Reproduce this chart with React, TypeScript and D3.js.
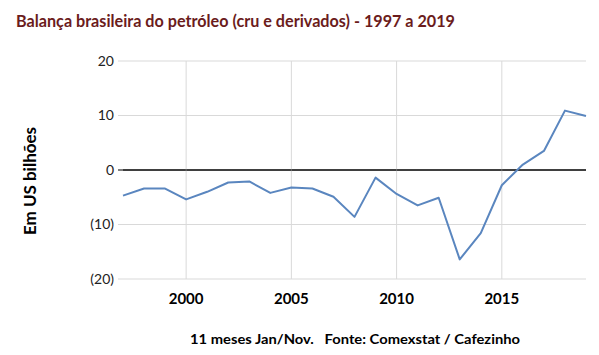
import React from "react";
import * as d3 from "d3";

const years = [1997,1998,1999,2000,2001,2002,2003,2004,2005,2006,2007,2008,2009,2010,2011,2012,2013,2014,2015,2016,2017,2018,2019];
const balance = [-4.7,-3.4,-3.4,-5.4,-4.0,-2.3,-2.1,-4.2,-3.2,-3.4,-4.9,-8.6,-1.4,-4.4,-6.5,-5.1,-16.4,-11.6,-2.8,1.0,3.5,10.9,9.9];
const yTicks = [20, 10, 0, -10, -20];
const xTicks = [2000, 2005, 2010, 2015];
const title = "Balança brasileira do petróleo (cru e derivados) - 1997 a 2019";
const yLabel = "Em US bilhões";
const footer = "11 meses Jan/Nov.   Fonte: Comexstat / Cafezinho";

const W = 599, H = 355;
const left = 123, right = 586, top = 61, bottom = 279;
const font = "Lato, 'Open Sans', sans-serif";

function fmt(v: number) {
  return v < 0 ? `(${Math.abs(v)})` : `${v}`;
}

export default function App() {
  const x = d3.scaleLinear().domain([1997, 2019]).range([left, right]);
  const y = d3.scaleLinear().domain([-20, 20]).range([bottom, top]);
  const line = d3.line<number>().x((_, i) => x(years[i])).y((d) => y(d));
  return (
    <svg width={W} height={H} style={{ position: "absolute", left: 0, top: 0, background: "#fff" }} fontFamily={font}>
      <text x={16} y={27} fontSize={17.5} fontWeight="bold" fill="#6b1c1c" textLength={439} lengthAdjust="spacingAndGlyphs">{title}</text>
      {yTicks.map((t) => (
        <g key={t}>
          <line x1={left - 5} x2={right} y1={y(t)} y2={y(t)} stroke={t === 0 ? "#000" : "#d9d9d9"} strokeWidth={1} />
          <text x={114} y={y(t)} dy="0.35em" textAnchor="end" fontSize={14} fill="#222">{fmt(t)}</text>
        </g>
      ))}
      {xTicks.map((t) => (
        <g key={t}>
          <line x1={x(t)} x2={x(t)} y1={top} y2={bottom} stroke="#d9d9d9" strokeWidth={1} />
          <text x={x(t)} y={304} textAnchor="middle" fontSize={15} fontWeight="bold" fill="#000">{t}</text>
        </g>
      ))}
      <line x1={left} x2={right} y1={y(0)} y2={y(0)} stroke="#000" strokeWidth={1} />
      <path d={line(balance) || ""} fill="none" stroke="#5a86bf" strokeWidth={2} strokeLinejoin="round" />
      <text transform={`translate(36,181) rotate(-90)`} textAnchor="middle" fontSize={17} fontWeight="bold" fill="#000">{yLabel}</text>
      <text x={190} y={344} fontSize={14} fontWeight="bold" fill="#000" style={{ whiteSpace: "pre" }} textLength={330} lengthAdjust="spacingAndGlyphs">{footer}</text>
    </svg>
  );
}
